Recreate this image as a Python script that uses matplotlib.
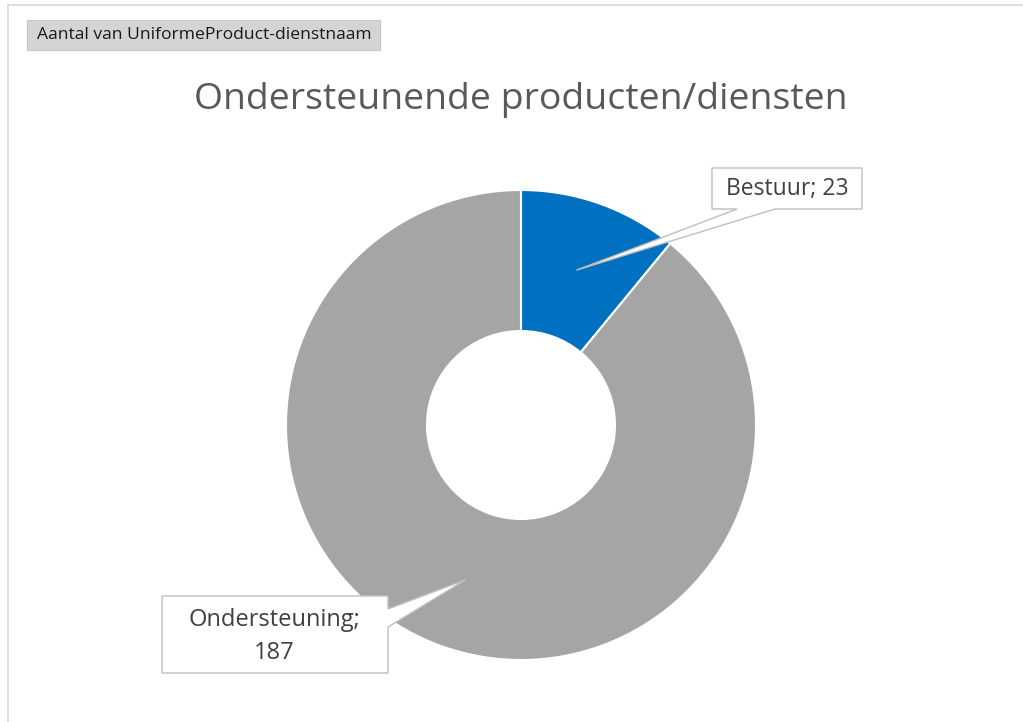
import numpy as np
import matplotlib
matplotlib.use("Agg")
import matplotlib.pyplot as plt
from matplotlib.patches import Polygon, Rectangle

categories = ["Bestuur", "Ondersteuning"]
values = [23, 187]
colors = ["#0070C0", "#A5A5A5"]
title = "Ondersteunende producten/diensten"
field_label = "Aantal van UniformeProduct-dienstnaam"

W, H = 1023, 722
fig = plt.figure(figsize=(W / 100, H / 100), dpi=100)
ax = fig.add_axes([0, 0, 1, 1])

cx, cy = 521, H - 425
r_out, r_in = 235, 94

ax.pie(values, colors=colors, startangle=90, counterclock=False,
       center=(cx, cy), radius=r_out,
       wedgeprops=dict(width=r_out - r_in, edgecolor="white", linewidth=1.5))
ax.set_xlim(0, W)
ax.set_ylim(0, H)
ax.set_aspect("auto")
ax.axis("off")

# outer chart border (top and left visible)
ax.plot([8, W], [H - 5, H - 5], color="#D9D9D9", lw=1.2, zorder=1)
ax.plot([8, 8], [0, H - 5], color="#D9D9D9", lw=1.2, zorder=1)

# field button
ax.add_patch(Rectangle((27, H - 50), 353, 30, facecolor="#D4D4D4",
                       edgecolor="#C8C8C8", lw=0.8, zorder=2))
ax.text(204, H - 35, field_label, ha="center", va="center", fontsize=12.6,
        family="Open Sans", color="#1a1a1a", zorder=3)

# title
ax.text(521, H - 100, title, ha="center", va="center", fontsize=26.9,
        family="Open Sans", color="#595959")

# callouts
total = sum(values)
cum = np.cumsum([0] + values)
mids = [(cum[i] + cum[i + 1]) / 2 / total * 360 for i in range(len(values))]
r_mid = (r_out + r_in) / 2
tips = [(cx + r_mid * np.sin(np.radians(m)), cy + r_mid * np.cos(np.radians(m))) for m in mids]

# Bestuur box: x 712..862, y 168..209 (image coords)
bx0, bx1, by0, by1 = 712, 862, H - 209, H - 168
tx, ty = tips[0]
poly = [(bx0, by0), (737, by0), (tx, ty), (775, by0), (bx1, by0), (bx1, by1), (bx0, by1)]
ax.add_patch(Polygon(poly, closed=True, facecolor="white", edgecolor="#BFBFBF", lw=1.0, zorder=5))
ax.text((bx0 + bx1) / 2, (by0 + by1) / 2 - 1, f"{categories[0]}; {values[0]}", ha="center",
        va="center", fontsize=16.5, family="Open Sans", color="#404040", zorder=6)

# Ondersteuning box: x 162..388, y 596..673
ox0, ox1, oy0, oy1 = 162, 388, H - 673, H - 596
tx, ty = tips[1]
poly = [(ox0, oy0), (ox1, oy0), (ox1, H - 627), (tx, ty), (ox1, H - 609), (ox1, oy1), (ox0, oy1)]
ax.add_patch(Polygon(poly, closed=True, facecolor="white", edgecolor="#BFBFBF", lw=1.0, zorder=5))
ax.text((ox0 + ox1) / 2 - 1, (oy0 + oy1) / 2 - 2, f"{categories[1]};\n{values[1]}", ha="center",
        va="center", fontsize=17, family="Open Sans", color="#404040", zorder=6,
        linespacing=1.5)

fig.savefig("out.png", dpi=100, facecolor="white")
